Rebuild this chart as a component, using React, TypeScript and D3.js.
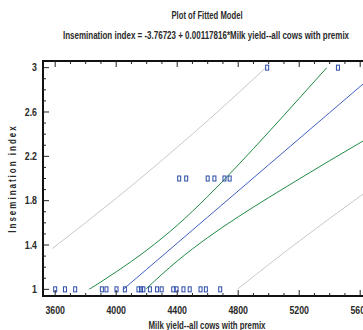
import React, { useLayoutEffect, useRef, useState } from "react";
import * as d3 from "d3";

// Observed data (Milk yield, Insemination index)
const milkAt1 = [3600, 3664, 3731, 3906, 3936, 4002, 4057, 4146, 4163, 4178, 4221, 4268, 4298, 4374, 4396, 4441, 4482, 4553, 4588, 4682];
const milkAt2 = [4413, 4459, 4600, 4644, 4710, 4744];
const milkAt3 = [4990, 5454];

// Fitted model coefficients (from the title)
const intercept = -3.76723;
const slope = 0.00117816;

// Limits
const bandX = [3580, 3800, 4000, 4200, 4400, 4600, 4800, 5000, 5200, 5400, 5600, 5800];
const upperPred = [1.367, 1.602, 1.822, 2.048, 2.282, 2.522, 2.77, 3.024, 3.284, 3.549, 3.82, 4.096];
const upperConf = [0.793, 0.98, 1.158, 1.353, 1.578, 1.838, 2.122, 2.419, 2.723, 3.029, 3.338, 3.647];
const lowerConf = [0.108, 0.44, 0.733, 1.009, 1.255, 1.467, 1.654, 1.828, 1.996, 2.161, 2.323, 2.485];
const lowerPred = [-0.466, -0.182, 0.069, 0.314, 0.551, 0.782, 1.006, 1.224, 1.435, 1.64, 1.841, 2.036];

const xTicksMajor = [3600, 4000, 4400, 4800, 5200, 5600];
const xTickLabels = ["3600", "4000", "4400", "4800", "5200", "5600"];
const yTicksMajor = [1, 1.4, 1.8, 2.2, 2.6, 3];
const yTickLabels = ["1", "1.4", "1.8", "2.2", "2.6", "3"];

const title = "Plot of Fitted Model";
const subtitle = "Insemination index = -3.76723 + 0.00117816*Milk yield--all cows with premix";
const xTitle = "Milk yield--all cows with premix";
const yTitle = "Insemination index";

const FONT = "'Liberation Sans', Arial, sans-serif";

function NText(props: {
  x: number; y: number; anchor?: "start" | "middle" | "end"; size?: number; sx?: number;
  children: string; fill?: string; width?: number; rotate?: number; spacing?: number;
}) {
  const { x, y, anchor = "middle", size = 10, sx = 0.84, children, fill = "#2a2a2a", width, rotate = 0, spacing } = props;
  const ref = useRef<SVGTextElement>(null);
  const [scale, setScale] = useState(sx);
  useLayoutEffect(() => {
    if (width && ref.current) {
      const w = ref.current.getComputedTextLength();
      if (w > 0) setScale(width / w);
    }
  }, [width, children]);
  return (
    <text
      ref={ref}
      transform={`translate(${x},${y}) rotate(${rotate}) scale(${scale},1)`}
      textAnchor={anchor}
      fontFamily={FONT}
      fontWeight="bold"
      fontSize={size}
      fill={fill}
      letterSpacing={spacing}
    >
      {children}
    </text>
  );
}

export default function App() {
  const W = 363, H = 330;
  const left = 43, right = 372.4, top = 61, bottom = 296;
  const x = d3.scaleLinear().domain([3520, 5680]).range([left, right]);
  const y = d3.scaleLinear().domain([0.94, 3.06]).range([bottom, top]);

  const mk = (vals: number[]) =>
    d3.line<number>().x((_, i) => x(bandX[i])).y((v) => y(v)).curve(d3.curveMonotoneX)(vals) || "";
  const fitted = bandX.map((v) => intercept + slope * v);

  const minorX = d3.range(3600, 5700, 100);
  const minorY = d3.range(10, 31).map((v) => v / 10);

  const points: [number, number][] = [
    ...milkAt1.map((m) => [m, 1] as [number, number]),
    ...milkAt2.map((m) => [m, 2] as [number, number]),
    ...milkAt3.map((m) => [m, 3] as [number, number]),
  ];

  const isMajorX = (v: number) => Math.abs((v - 3600) % 400) < 1e-6;
  const isMajorY = (v: number) => yTicksMajor.some((t) => Math.abs(t - v) < 1e-6);

  return (
    <svg width={W} height={H} style={{ position: "absolute", left: 0, top: 0, background: "#fff" }}>
      <defs>
        <clipPath id="band">
          <rect x={left} y={y(3)} width={right - left} height={y(1) - y(3)} />
        </clipPath>
      </defs>
      <NText x={207} y={18.5} size={10.5} width={71}>{title}</NText>
      <NText x={206} y={38.5} size={10.5} width={286}>{subtitle}</NText>

      <g clipPath="url(#band)" fill="none" strokeWidth={1}>
        <path d={mk(upperPred)} stroke="#c8c8c8" />
        <path d={mk(lowerPred)} stroke="#c8c8c8" />
        <path d={mk(upperConf)} stroke="#1f8a46" />
        <path d={mk(lowerConf)} stroke="#1f8a46" />
        <path d={mk(fitted)} stroke="#3f5fc0" />
      </g>

      {points.map(([m, v], i) => (
        <rect key={i} x={x(m) - 1.5} y={y(v) - 2.5} width={3} height={5} fill="none" stroke="#2a4aa8" strokeWidth={1} />
      ))}

      {/* axes */}
      <line x1={left} x2={W} y1={bottom} y2={bottom} stroke="#111" strokeWidth={2} />
      <line x1={left} x2={W} y1={top} y2={top} stroke="#111" strokeWidth={2} />
      <line x1={left} x2={left} y1={top - 1} y2={bottom + 1} stroke="#111" strokeWidth={2} />

      {minorX.map((v) => (
        <g key={"xt" + v} stroke="#222" strokeWidth={1}>
          <line x1={x(v)} x2={x(v)} y1={bottom} y2={bottom - (isMajorX(v) ? 6 : 3)} />
          <line x1={x(v)} x2={x(v)} y1={top} y2={top + (isMajorX(v) ? 6 : 3)} />
        </g>
      ))}
      {minorY.map((v) => (
        <line key={"yt" + v} x1={left} x2={left + (isMajorY(v) ? 6 : 3)} y1={y(v)} y2={y(v)} stroke="#222" strokeWidth={1} />
      ))}

      {xTicksMajor.map((v, i) => (
        <NText key={"xl" + v} x={x(v)} y={314} size={10.5}>{xTickLabels[i]}</NText>
      ))}
      {yTicksMajor.map((v, i) => (
        <NText key={"yl" + v} x={37} y={y(v) + 3.7} anchor="end" size={10.5}>{yTickLabels[i]}</NText>
      ))}

      <NText x={207} y={328.5} size={10.5} width={117}>{xTitle}</NText>
      <NText x={16} y={(top + bottom) / 2} size={10} rotate={-90} sx={0.8} spacing={2.5}>{yTitle}</NText>
    </svg>
  );
}
